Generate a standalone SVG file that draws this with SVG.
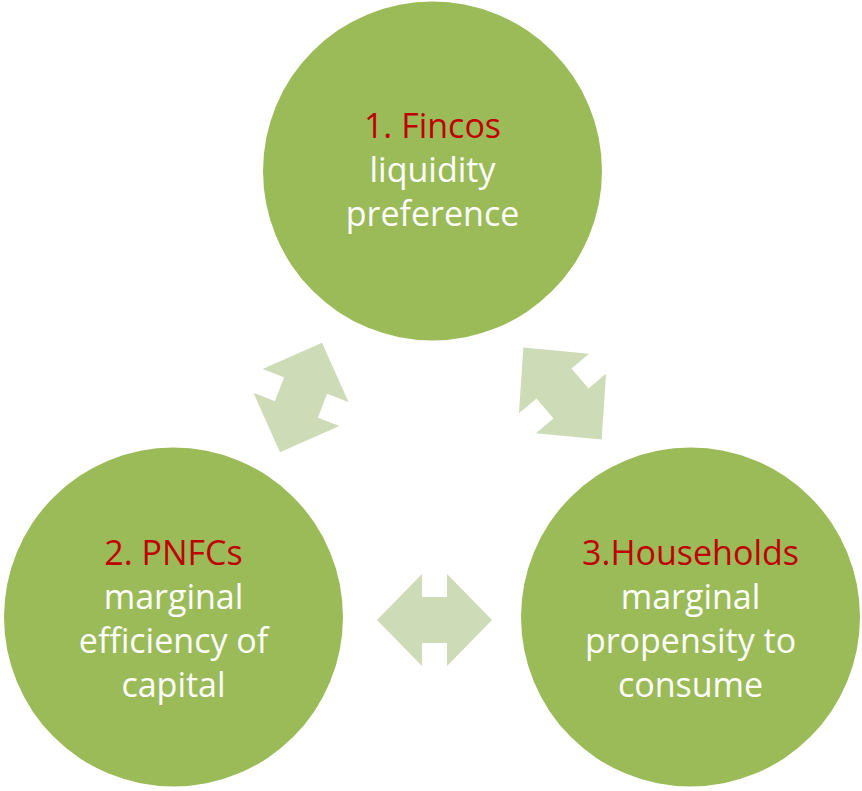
<svg xmlns="http://www.w3.org/2000/svg" xmlns:xlink="http://www.w3.org/1999/xlink" width="862" height="791" viewBox="0 0 862 791">
  <style>
    .node { fill: #9BBB59; }
    .arrow { fill: #CDDBB7; }
    text { font-family: "Open Sans", "Liberation Sans", sans-serif; font-size: 34px; text-anchor: middle; }
    .title { fill: #C00000; }
    .body { fill: #FFFFFF; }
  </style>
  <defs>
    <!-- double-headed block arrow, centred on the origin, pointing along x -->
    <polygon id="dbl-arrow" points="-57.5,0 -12.5,-46 -12.5,-23 12.5,-23 12.5,-46 57.5,0 12.5,46 12.5,23 -12.5,23 -12.5,46"/>
  </defs>

  <rect width="862" height="791" fill="#FFFFFF"/>

  <g id="connectors" class="arrow">
    <use xlink:href="#dbl-arrow" transform="translate(301,397.5) rotate(-69) scale(1.02,1)"/>
    <use xlink:href="#dbl-arrow" transform="translate(562.5,393.5) rotate(49.6) scale(1.05,1)"/>
    <use xlink:href="#dbl-arrow" transform="translate(434.5,620)"/>
  </g>

  <g id="fincos">
    <circle class="node" cx="432.5" cy="171" r="169.5"/>
    <text x="432.5" y="138" class="title">1. Fincos</text>
    <text x="432.5" y="182" class="body">liquidity</text>
    <text x="432.5" y="226" class="body">preference</text>
  </g>

  <g id="pnfcs">
    <circle class="node" cx="173.5" cy="617" r="169.5"/>
    <text x="173.5" y="565" class="title">2. PNFCs</text>
    <text x="173.5" y="609" class="body">marginal</text>
    <text x="173.5" y="653" class="body">efficiency of</text>
    <text x="173.5" y="697" class="body">capital</text>
  </g>

  <g id="households">
    <circle class="node" cx="690.5" cy="617" r="169.5"/>
    <text x="690.5" y="565" class="title">3.Households</text>
    <text x="690.5" y="609" class="body">marginal</text>
    <text x="690.5" y="653" class="body">propensity to</text>
    <text x="690.5" y="697" class="body">consume</text>
  </g>
</svg>
